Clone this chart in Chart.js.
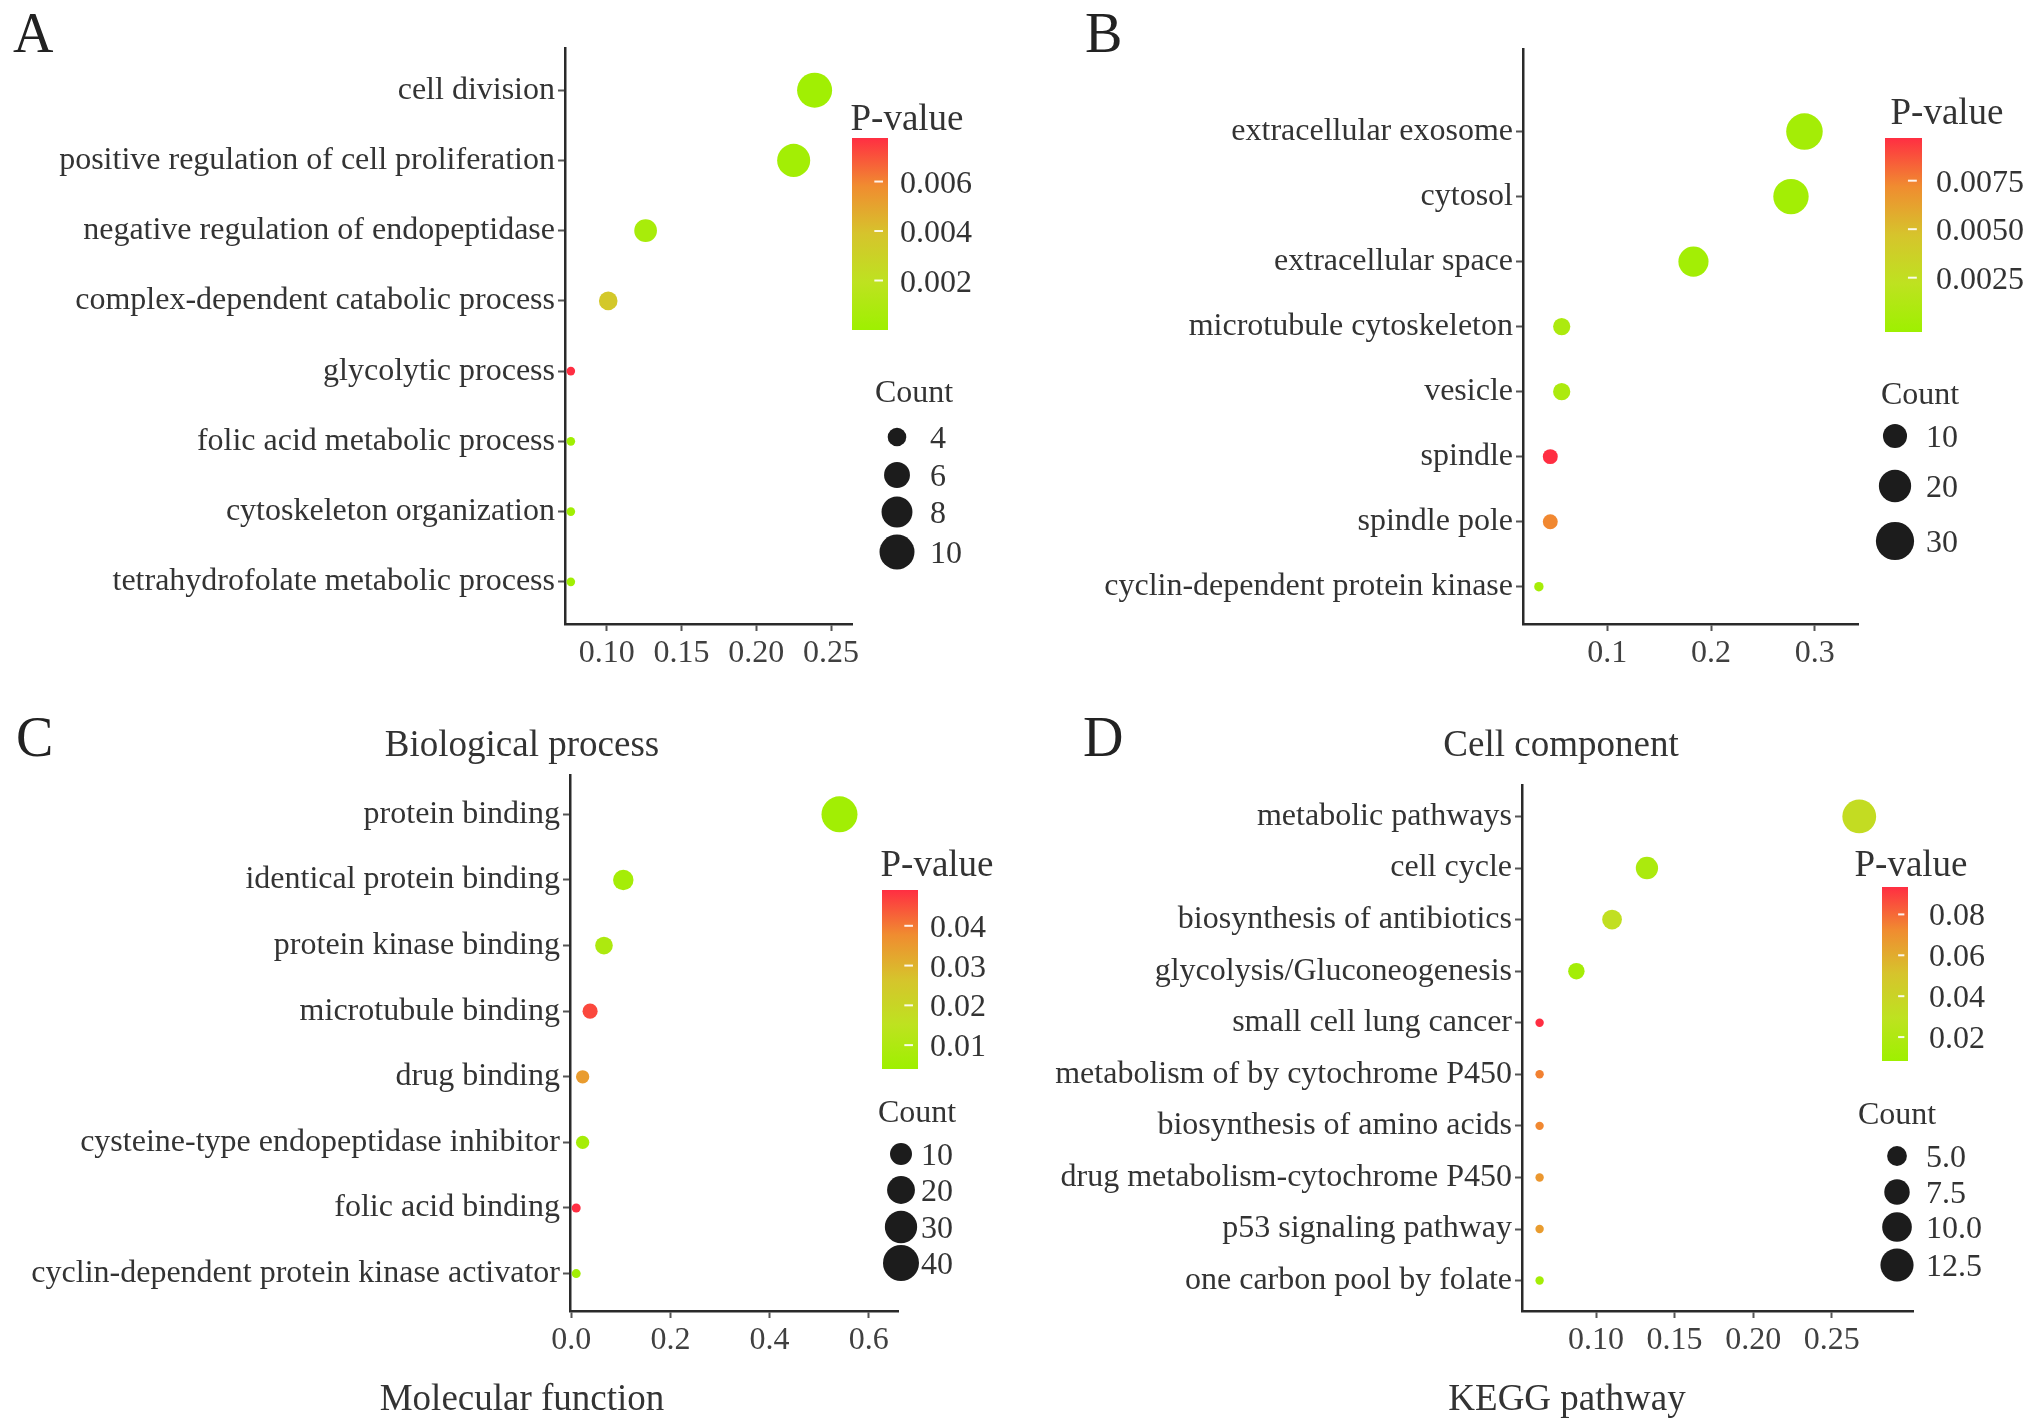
<!DOCTYPE html>
<html>
<head>
<meta charset="utf-8">
<script src="https://cdn.jsdelivr.net/npm/chart.js@4.4.1/dist/chart.umd.min.js"></script>
<style>
  html, body { margin: 0; padding: 0; background: #ffffff; width: 2031px; height: 1427px; overflow: hidden; }
  canvas { position: absolute; left: 0; top: 0; }
</style>
</head>
<body>
<script>
// ---------------- DATA ----------------
// Panel A - Biological process
const catsA = ["cell division", "positive regulation of cell proliferation", "negative regulation of endopeptidase",
  "complex-dependent catabolic process", "glycolytic process", "folic acid metabolic process",
  "cytoskeleton organization", "tetrahydrofolate metabolic process"];
const ratioA = [0.239, 0.225, 0.126, 0.101, 0.076, 0.076, 0.076, 0.076];
const countA = [10, 9, 5, 4, 3, 3, 3, 3];
const pvalA = [0.0002, 0.0003, 0.0006, 0.0036, 0.00776, 0.0001, 0.0002, 0.0002];
const xTicksA = [0.10, 0.15, 0.20, 0.25];
const pTicksA = [0.002, 0.004, 0.006];
const countTicksA = [4, 6, 8, 10];

// Panel B - Cell component
const catsB = ["extracellular exosome", "cytosol", "extracellular space", "microtubule cytoskeleton",
  "vesicle", "spindle", "spindle pole", "cyclin-dependent protein kinase"];
const ratioB = [0.290, 0.277, 0.183, 0.056, 0.056, 0.045, 0.045, 0.034];
const countB = [27, 25, 17, 5, 5, 4, 4, 3];
const pvalB = [0.0002, 0.0001, 0.0001, 0.0008, 0.0008, 0.0097, 0.0073, 0.0003];
const xTicksB = [0.1, 0.2, 0.3];
const pTicksB = [0.0025, 0.0050, 0.0075];
const countTicksB = [10, 20, 30];

// Panel C - Molecular function
const catsC = ["protein binding", "identical protein binding", "protein kinase binding", "microtubule binding",
  "drug binding", "cysteine-type endopeptidase inhibitor", "folic acid binding",
  "cyclin-dependent protein kinase activator"];
const ratioC = [0.541, 0.105, 0.066, 0.038, 0.023, 0.023, 0.010, 0.010];
const countC = [40, 8, 5, 3, 2, 2, 1, 1];
const pvalC = [0.0054, 0.0063, 0.0094, 0.0459, 0.0346, 0.0063, 0.049, 0.0054];
const xTicksC = [0.0, 0.2, 0.4, 0.6];
const pTicksC = [0.01, 0.02, 0.03, 0.04];
const countTicksC = [10, 20, 30, 40];

// Panel D - KEGG pathway
const catsD = ["metabolic pathways", "cell cycle", "biosynthesis of antibiotics", "glycolysis/Gluconeogenesis",
  "small cell lung cancer", "metabolism of by cytochrome P450", "biosynthesis of amino acids",
  "drug metabolism-cytochrome P450", "p53 signaling pathway", "one carbon pool by folate"];
const ratioD = [0.2675, 0.1324, 0.1102, 0.0875, 0.0641, 0.0641, 0.0641, 0.0641, 0.0641, 0.0641];
const countD = [13, 6, 5, 4, 3, 3, 3, 3, 3, 3];
const pvalD = [0.034, 0.0168, 0.032, 0.0126, 0.0934, 0.0747, 0.073, 0.0679, 0.0662, 0.0126];
const xTicksD = [0.10, 0.15, 0.20, 0.25];
const pTicksD = [0.02, 0.04, 0.06, 0.08];
const countTicksD = [5, 7.5, 10, 12.5];

// ---------------- STYLE / LAYOUT ----------------
const W = 2031, H = 1427;
const FONT = '"Liberation Serif", "Times New Roman", serif';
Chart.defaults.font.family = FONT;

// colour gradient (low p -> green, high p -> red)
const STOPS = [
  [0.00, [158, 240, 0]],
  [0.25, [190, 226, 32]],
  [0.50, [214, 196, 44]],
  [0.75, [240, 140, 48]],
  [1.00, [255, 46, 66]]
];
function gradColor(t) {
  t = Math.max(0, Math.min(1, t));
  for (let i = 1; i < STOPS.length; i++) {
    if (t <= STOPS[i][0]) {
      const [t0, c0] = STOPS[i - 1], [t1, c1] = STOPS[i];
      const f = (t - t0) / (t1 - t0);
      return 'rgb(' + c0.map((v, k) => Math.round(v + (c1[k] - v) * f)).join(',') + ')';
    }
  }
  return 'rgb(' + STOPS[STOPS.length - 1][1].join(',') + ')';
}

const panels = [
  { id: 'A', cats: catsA, ratio: ratioA, count: countA, pval: pvalA,
    xTicks: xTicksA, xDec: 2, pTicks: pTicksA, pDec: 3, cTicks: countTicksA, cDec: 0,
    area: { L: 565, R: 852, T: 48, B: 624 }, xr: [0.0721, 0.264], yr: [0.4, 8.6],
    pRange: [0, 0.00776], size: { cmin: 3, cmax: 10, rmin: 4.3, rmax: 17.5 },
    letter: { t: 'A', x: 13, y: 52 }, sub: { t: 'Biological process', x: 522, y: 756 },
    leg: { pt: [907, 130], bar: [852, 138, 36, 192], plx: 900, ct: [914, 402], cx: 897, cys: [437, 475, 512, 552], clx: 930 } },
  { id: 'B', cats: catsB, ratio: ratioB, count: countB, pval: pvalB,
    xTicks: xTicksB, xDec: 1, pTicks: pTicksB, pDec: 4, cTicks: countTicksB, cDec: 0,
    area: { L: 1523, R: 1858, T: 49, B: 624 }, xr: [0.0187, 0.3416], yr: [0.426, 9.27],
    pRange: [-0.0003, 0.0097], size: { cmin: 3, cmax: 30, rmin: 4.7, rmax: 19.1 },
    letter: { t: 'B', x: 1085, y: 52 }, sub: { t: 'Cell component', x: 1561, y: 756 },
    leg: { pt: [1947, 124], bar: [1885, 138, 37, 194], plx: 1936, ct: [1920, 404], cx: 1895, cys: [436, 486, 541], clx: 1926 } },
  { id: 'C', cats: catsC, ratio: ratioC, count: countC, pval: pvalC,
    xTicks: xTicksC, xDec: 1, pTicks: pTicksC, pDec: 2, cTicks: countTicksC, cDec: 0,
    area: { L: 570, R: 898, T: 775, B: 1311 }, xr: [-0.0025, 0.659], yr: [0.43, 8.6],
    pRange: [0.004, 0.049], size: { cmin: 1, cmax: 40, rmin: 4.5, rmax: 18 },
    letter: { t: 'C', x: 16, y: 756 }, sub: { t: 'Molecular function', x: 522, y: 1410 },
    leg: { pt: [937, 876], bar: [882, 890, 36, 179], plx: 930, ct: [917, 1122], cx: 901, cys: [1154, 1190, 1227, 1263], clx: 921 } },
  { id: 'D', cats: catsD, ratio: ratioD, count: countD, pval: pvalD,
    xTicks: xTicksD, xDec: 2, pTicks: pTicksD, pDec: 2, cTicks: countTicksD, cDec: 1,
    area: { L: 1522, R: 1913, T: 785, B: 1311 }, xr: [0.0529, 0.3017], yr: [0.41, 10.61],
    pRange: [0.0083, 0.0934], size: { cmin: 3, cmax: 13, rmin: 4.2, rmax: 16.9 },
    letter: { t: 'D', x: 1083, y: 756 }, sub: { t: 'KEGG pathway', x: 1567, y: 1410 },
    leg: { pt: [1911, 876], bar: [1882, 887, 26, 174], plx: 1929, ct: [1897, 1124], cx: 1897, cys: [1156, 1192, 1227, 1265], clx: 1926 } }
];

function decoPlugin(P, sizeOf) {
  return {
    id: 'deco' + P.id,
    afterDraw(chart) {
      const ctx = chart.ctx;
      ctx.save();
      ctx.textBaseline = 'alphabetic';
      // panel letter
      ctx.fillStyle = '#222';
      ctx.textAlign = 'left';
      ctx.font = '56px ' + FONT;
      ctx.fillText(P.letter.t, P.letter.x, P.letter.y);
      // caption
      ctx.fillStyle = '#333';
      ctx.textAlign = 'center';
      ctx.font = '37px ' + FONT;
      ctx.fillText(P.sub.t, P.sub.x, P.sub.y);
      // colour legend
      const L = P.leg;
      ctx.fillText('P-value', L.pt[0], L.pt[1]);
      const [bx, by, bw, bh] = L.bar;
      const g = ctx.createLinearGradient(0, by + bh, 0, by);
      STOPS.forEach(s => g.addColorStop(s[0], 'rgb(' + s[1].join(',') + ')'));
      ctx.fillStyle = g;
      ctx.fillRect(bx, by, bw, bh);
      const py = v => by + bh - (v - P.pRange[0]) / (P.pRange[1] - P.pRange[0]) * bh;
      ctx.strokeStyle = 'rgba(255,255,255,0.9)';
      ctx.lineWidth = 2;
      ctx.font = '32px ' + FONT;
      ctx.textAlign = 'left';
      ctx.fillStyle = '#333';
      P.pTicks.forEach(v => {
        const y = py(v);
        ctx.beginPath();
        ctx.moveTo(bx + bw * 0.62, y);
        ctx.lineTo(bx + bw * 0.86, y);
        ctx.stroke();
        ctx.fillText(v.toFixed(P.pDec), L.plx, y + 11);
      });
      // size legend
      ctx.textAlign = 'center';
      ctx.font = '32px ' + FONT;
      ctx.fillText('Count', L.ct[0], L.ct[1]);
      ctx.textAlign = 'left';
      P.cTicks.forEach((c, i) => {
        const y = L.cys[i];
        ctx.fillStyle = '#1c1c1c';
        ctx.beginPath();
        ctx.arc(L.cx, y, sizeOf(c), 0, Math.PI * 2);
        ctx.fill();
        ctx.fillStyle = '#333';
        ctx.fillText(c.toFixed(P.cDec), L.clx, y + 11);
      });
      ctx.restore();
    }
  };
}

function makeChart(P) {
  const cv = document.createElement('canvas');
  cv.width = W; cv.height = H;
  cv.style.width = W + 'px'; cv.style.height = H + 'px';
  document.body.appendChild(cv);
  const n = P.cats.length;
  const S = P.size;
  const sizeOf = c => S.rmin + (S.rmax - S.rmin) * Math.sqrt(Math.max(0, Math.min(1, (c - S.cmin) / (S.cmax - S.cmin))));
  const colorOf = p => gradColor((p - P.pRange[0]) / (P.pRange[1] - P.pRange[0]));
  const gridOpts = { display: true, drawOnChartArea: false, drawTicks: true, tickLength: 7, tickWidth: 2, color: '#555' };
  const borderOpts = { display: true, color: '#2a2a2a', width: 2.5 };
  new Chart(cv, {
    type: 'bubble',
    data: {
      datasets: [{
        data: P.cats.map((c, i) => ({ x: P.ratio[i], y: n - i, r: sizeOf(P.count[i]) })),
        backgroundColor: P.pval.map(colorOf),
        borderWidth: 0,
        hoverRadius: 0,
        hoverBorderWidth: 0,
        clip: false
      }]
    },
    options: {
      responsive: false,
      animation: false,
      devicePixelRatio: 1,
      events: [],
      layout: { padding: { left: 0, top: P.area.T, right: W - P.area.R, bottom: 0 } },
      plugins: { legend: { display: false }, tooltip: { enabled: false }, title: { display: false } },
      scales: {
        x: {
          type: 'linear', position: 'bottom', min: P.xr[0], max: P.xr[1], bounds: 'data',
          afterFit: s => { s.height = H - P.area.B; },
          afterBuildTicks: s => { s.ticks = P.xTicks.map(v => ({ value: v })); },
          ticks: { autoSkip: false, maxRotation: 0, minRotation: 0, padding: 3, color: '#404040',
                   font: { size: 32, family: FONT }, callback: v => Number(v).toFixed(P.xDec) },
          grid: gridOpts, border: borderOpts
        },
        y: {
          type: 'linear', position: 'left', min: P.yr[0], max: P.yr[1], bounds: 'data',
          afterFit: s => { s.width = P.area.L; },
          afterBuildTicks: s => { s.ticks = P.cats.map((c, i) => ({ value: n - i })); },
          ticks: { autoSkip: false, padding: 3, color: '#333',
                   font: { size: 32, family: FONT }, callback: v => P.cats[n - Math.round(v)] },
          grid: gridOpts, border: borderOpts
        }
      }
    },
    plugins: [decoPlugin(P, sizeOf)]
  });
}

panels.forEach(makeChart);
</script>
</body>
</html>
